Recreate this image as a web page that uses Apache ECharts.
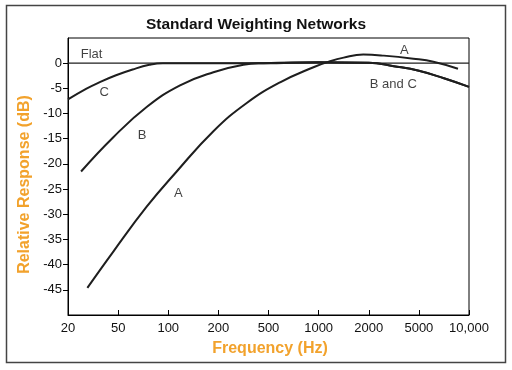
<!DOCTYPE html>
<html><head><meta charset="utf-8">
<script src="https://cdn.jsdelivr.net/npm/echarts@6/dist/echarts.min.js"></script>
<style>html,body{margin:0;padding:0;background:#fff}#c{width:512px;height:370px}</style>
</head><body><div id="c"></div>
<script>
// x ticks (equally spaced on the chart)
const tickFreqs = [20, 50, 100, 200, 500, 1000, 2000, 5000, 10000];
const tickLabels = ['20', '50', '100', '200', '500', '1000', '2000', '5000', '10,000'];
const yTickValues = [-45, -40, -35, -30, -25, -20, -15, -10, -5, 0];

// Flat response
const flatFreq = [20, 10000];
const flatDb = [0, 0];
// A-weighting
const aFreq = [28.5, 45.8, 74.2, 112.4, 186.7, 336, 587, 931, 1150, 1414, 1853, 2632, 4520, 6112, 8586];
const aDb = [-44.6, -37.4, -28.5, -21.5, -13.5, -7.9, -3.8, -0.8, 0.3, 1.1, 1.7, 1.5, 0.9, 0.3, -1.1];
// B-weighting
const bFreq = [25.4, 45.8, 74.2, 117.7, 186.7, 316, 456, 1000, 2000, 3162, 5000, 7071, 10000];
const bDb = [-21.5, -14.7, -8.7, -4.4, -1.8, -0.3, 0, 0.2, 0.1, -0.6, -1.5, -3.0, -4.7];
// C-weighting
const cFreq = [20, 27.8, 35.5, 48.1, 61.1, 77, 92.7, 456, 1000, 2000, 3162, 5000, 7071, 10000];
const cDb = [-7.2, -5.1, -3.8, -2.4, -1.25, -0.33, 0, 0, 0.2, 0.1, -0.6, -1.5, -3.0, -4.7];

// curve labels
const noteText = ['Flat', 'C', 'B', 'A', 'A', 'B and C'];
const noteFreq = [25, 38.7, 69.7, 115, 3833, 3134];
const noteDb = [1.7, -5.9, -14.3, -25.9, 2.5, -4.2];

// map frequency onto the chart's equally spaced tick scale (log between ticks)
function pos(f) {
  for (let i = 0; i < tickFreqs.length - 1; i++) {
    if (f <= tickFreqs[i + 1] || i === tickFreqs.length - 2) {
      return i + Math.log(f / tickFreqs[i]) / Math.log(tickFreqs[i + 1] / tickFreqs[i]);
    }
  }
}
const pairs = (fs, ds) => fs.map((f, i) => [pos(f), ds[i]]);

const FONT = 'Liberation Sans, Arial, Helvetica, sans-serif';
const ORANGE = '#F2A22C';
const lineColor = '#1e1e1e';
const curve = (name, fs, ds, w) => ({
  name, type: 'line', data: pairs(fs, ds), showSymbol: false, smooth: 0.45,
  lineStyle: { color: lineColor, width: w }, silent: true, z: 3
});

const chart = echarts.init(document.getElementById('c'), null, { renderer: 'canvas' });
chart.setOption({
  animation: false,
  backgroundColor: '#fff',
  title: {
    text: 'Standard Weighting Networks', left: 'center', top: 12,
    textStyle: { fontFamily: FONT, fontSize: 15.5, fontWeight: 'bold', color: '#111' }
  },
  graphic: [{
    type: 'rect', shape: { x: 6.5, y: 5.5, width: 499, height: 357 },
    style: { fill: 'none', stroke: '#444', lineWidth: 1.5 }, silent: true
  }],
  grid: { left: 68, right: 43, top: 38, bottom: 55, show: true, borderColor: '#000', borderWidth: 1, backgroundColor: 'transparent' },
  xAxis: {
    type: 'value', min: 0, max: tickFreqs.length - 1, interval: 1,
    splitLine: { show: false },
    axisLine: { onZero: false, lineStyle: { color: '#000', width: 1 } },
    axisTick: { show: true, inside: true, length: 5, lineStyle: { color: '#000' } },
    axisLabel: {
      color: '#111', fontFamily: FONT, fontSize: 13, margin: 7,
      formatter: v => tickLabels[Math.round(v)] ?? ''
    },
    name: 'Frequency (Hz)', nameLocation: 'middle', nameGap: 26,
    nameTextStyle: { color: ORANGE, fontFamily: FONT, fontSize: 16, fontWeight: 'bold', padding: [0, 0, 0, 3] }
  },
  yAxis: {
    type: 'value', min: -50, max: 5, interval: 5,
    splitLine: { show: false },
    axisLine: { onZero: false, lineStyle: { color: '#000', width: 1 } },
    axisTick: { show: true, length: 5, lineStyle: { color: '#000' }, customValues: yTickValues },
    axisLabel: { color: '#111', fontFamily: FONT, fontSize: 13, margin: 6, customValues: yTickValues },
    name: 'Relative Response (dB)', nameLocation: 'middle', nameGap: 32,
    nameTextStyle: { color: ORANGE, fontFamily: FONT, fontSize: 16, fontWeight: 'bold', padding: [0, 16, 0, 0] }
  },
  series: [
    curve('Flat', flatFreq, flatDb, 1.3),
    curve('A', aFreq, aDb, 2),
    curve('B', bFreq, bDb, 2),
    curve('C', cFreq, cDb, 2),
    {
      type: 'scatter', silent: true, symbolSize: 1, itemStyle: { color: 'rgba(0,0,0,0)' }, z: 5,
      data: noteText.map((t, i) => ({
        value: [pos(noteFreq[i]), noteDb[i]],
        label: {
          show: true, formatter: t, position: i === 0 ? 'right' : 'inside', distance: 0,
          color: '#111', fontFamily: FONT, fontSize: 13
        }
      }))
    }
  ]
});
</script></body></html>
